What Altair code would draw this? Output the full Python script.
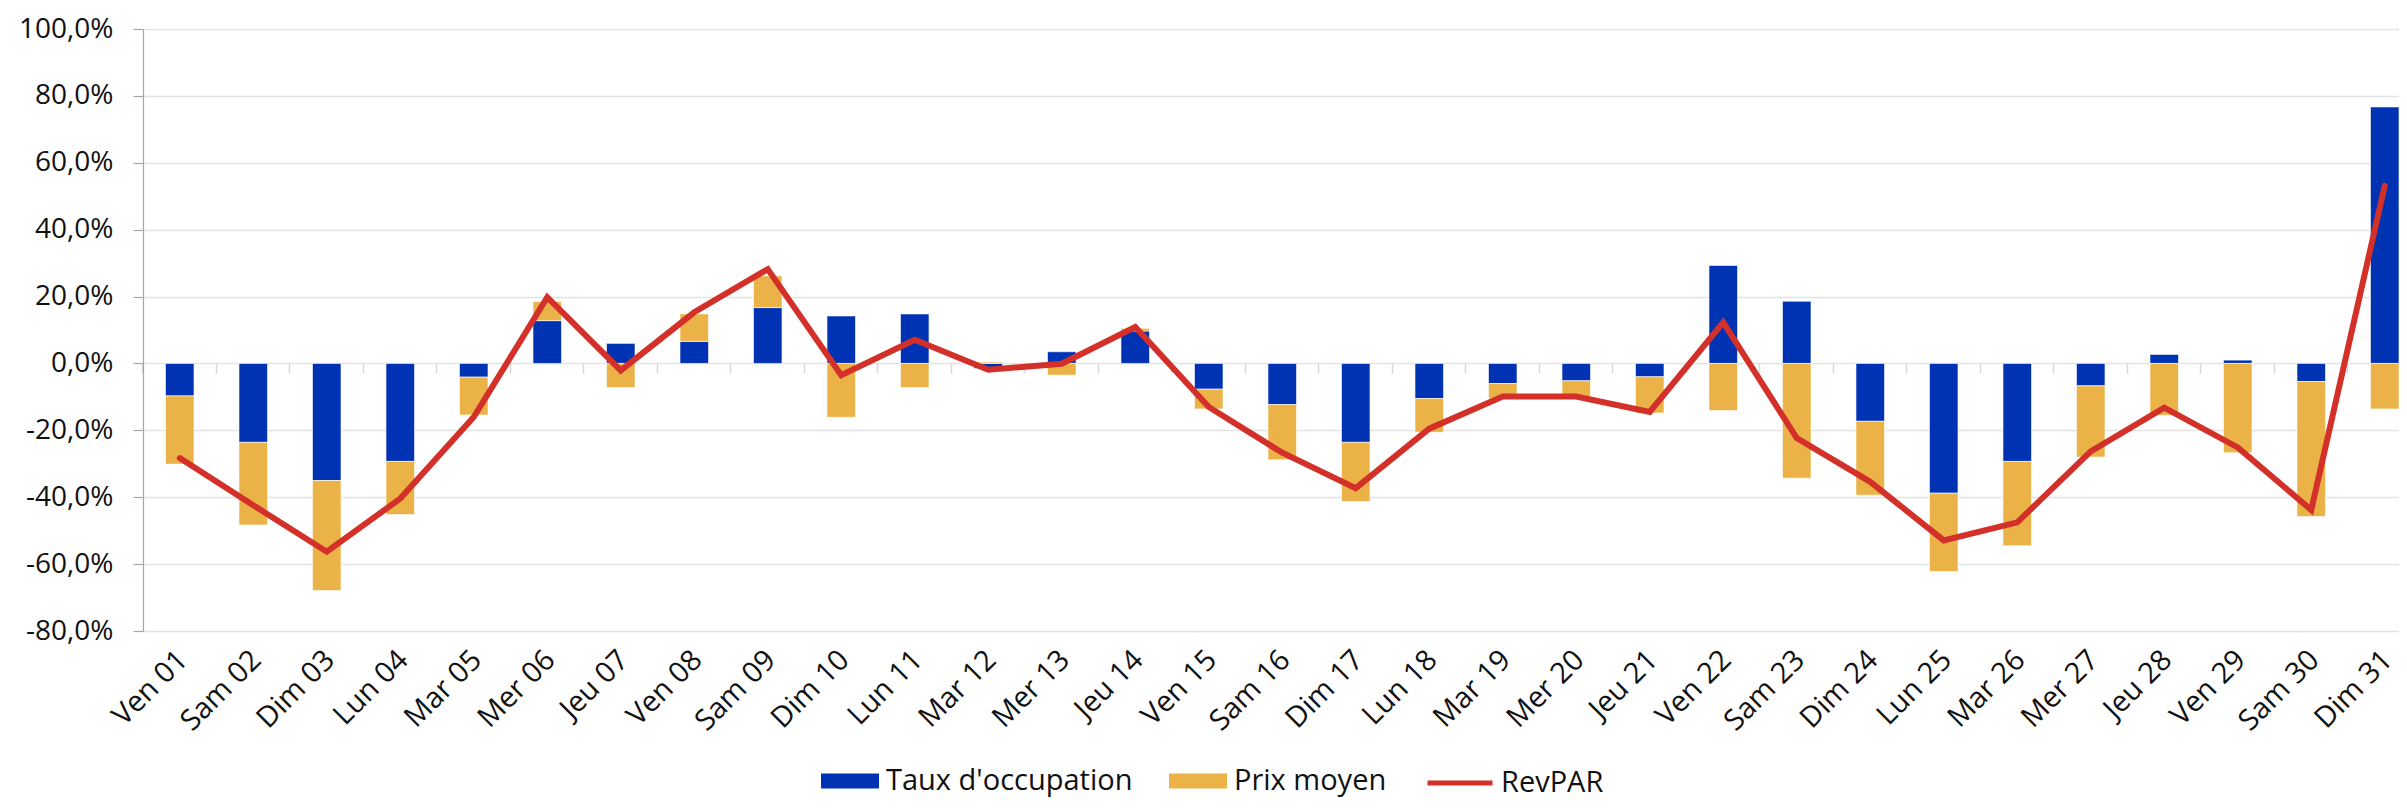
import altair as alt
import pandas as pd

jours = ["Ven 01", "Sam 02", "Dim 03", "Lun 04", "Mar 05", "Mer 06", "Jeu 07", "Ven 08",
         "Sam 09", "Dim 10", "Lun 11", "Mar 12", "Mer 13", "Jeu 14", "Ven 15", "Sam 16",
         "Dim 17", "Lun 18", "Mar 19", "Mer 20", "Jeu 21", "Ven 22", "Sam 23", "Dim 24",
         "Lun 25", "Mar 26", "Mer 27", "Jeu 28", "Ven 29", "Sam 30", "Dim 31"]

taux = [-9.7, -23.6, -35.0, -29.3, -4.1, 12.8, 6.0, 6.6, 16.7, 14.2, 14.8, -1.5, 3.5, 9.7,
        -7.7, -12.3, -23.6, -10.5, -6.0, -5.2, -4.0, 29.3, 18.6, -17.3, -38.8, -29.3, -6.7,
        2.7, 1.0, -5.4, 76.7]

prix = [-20.4, -24.7, -32.9, -15.9, -11.3, 5.7, -7.2, 8.2, 9.5, -16.1, -7.2, 0.4, -3.5, 0.8,
        -5.9, -16.5, -17.7, -10.1, -4.5, -4.7, -10.8, -14.1, -34.3, -22.1, -23.4, -25.2, -21.3,
        -15.5, -26.7, -40.4, -13.6]

revpar = [-28.3, -42.4, -56.3, -40.4, -16.0, 19.8, -2.1, 15.3, 28.2, -3.5, 7.1, -1.9, -0.1,
          10.9, -13.0, -26.7, -37.3, -19.5, -9.9, -9.9, -14.5, 12.3, -22.3, -35.4, -52.9,
          -47.5, -26.3, -13.2, -25.1, -43.8, 53.1]

series_bars = ["Taux d'occupation", "Prix moyen"]
series_line = ["RevPAR"]
y_ticks = [-80, -60, -40, -20, 0, 20, 40, 60, 80, 100]

rows = []
for j, t, p in zip(jours, taux, prix):
    rows.append({"jour": j, "serie": series_bars[0], "valeur": t, "ordre": 0})
    rows.append({"jour": j, "serie": series_bars[1], "valeur": p, "ordre": 1})
bars_df = pd.DataFrame(rows)
line_df = pd.DataFrame({"jour": jours, "serie": series_line[0], "valeur": revpar})

FONT = "Open Sans"
FS = 28
TXT = "#111111"
TOP = 21
H = 602

xscale = alt.Scale(domain=jours, paddingInner=0.612, paddingOuter=0.153, align=1)
yscale = alt.Scale(domain=[-80, 100], nice=False, zero=False)
label_expr = ("(datum.value < 0 ? '-' : '') + "
              "replace(format(abs(datum.value), '.1f'), '.', ',') + '%'")

yaxis = alt.Axis(values=y_ticks, labelExpr=label_expr, grid=True, gridColor="#e3e3e3",
                 gridWidth=1.5, domain=True, domainColor="#a6a6a6", domainWidth=1.2,
                 ticks=True, tickColor="#a6a6a6", tickSize=10, tickWidth=1.2,
                 labelPadding=20, labelFontSize=FS, labelFont=FONT, labelColor=TXT,
                 title=None)

bars = alt.Chart(bars_df).mark_bar(stroke="white", strokeWidth=0.6).encode(
    x=alt.X("jour:N", scale=xscale,
            axis=alt.Axis(orient="bottom", offset=-round(H * 80 / 180), labels=False,
                          domain=False, grid=False, ticks=True, tickColor="#d9d9d9",
                          tickSize=10, tickWidth=1.5, bandPosition=-0.79, title=None)),
    y=alt.Y("valeur:Q", stack="zero", scale=yscale, axis=yaxis),
    fill=alt.Fill("serie:N",
                  scale=alt.Scale(domain=series_bars, range=["#0033B4", "#EBB347"]),
                  legend=alt.Legend(orient="none", legendX=678, legendY=723,
                                    direction="horizontal", title=None,
                                    symbolType="M-1,-0.26H1V0.26H-1Z", symbolSize=3364,
                                    symbolStrokeWidth=0, symbolOpacity=1,
                                    labelFontSize=FS + 1, labelFont=FONT, labelColor=TXT,
                                    labelLimit=500, labelOffset=7, columnPadding=36)),
    order=alt.Order("ordre:Q"),
)

line = alt.Chart(line_df).mark_line(strokeWidth=6, strokeCap="round", strokeJoin="miter").encode(
    x=alt.X("jour:N", scale=xscale,
            axis=alt.Axis(orient="bottom", labelAngle=-45, labelAlign="right",
                          labelBaseline="middle", labelFontSize=FS + 1, labelFont=FONT,
                          labelColor=TXT, labelPadding=24, labelOffset=3,
                          domain=False, ticks=False, grid=False, title=None)),
    y=alt.Y("valeur:Q", scale=yscale, axis=yaxis),
    stroke=alt.Stroke("serie:N",
                      scale=alt.Scale(domain=series_line, range=["#D3302A"]),
                      legend=alt.Legend(orient="none", legendX=1282, legendY=719,
                                        direction="horizontal", title=None,
                                        symbolType="stroke", symbolSize=4225,
                                        symbolStrokeWidth=5,
                                        labelFontSize=FS + 1, labelFont=FONT,
                                        labelColor=TXT, labelLimit=500, labelOffset=6)),
)

chart = alt.layer(bars, line).resolve_axis(x="independent").properties(
    width=2256, height=H,
    padding={"left": 135, "top": TOP, "right": 0, "bottom": 793 - TOP - H},
    autosize=alt.AutoSizeParams(type="none"),
).configure_view(stroke=None).configure(font=FONT)

chart.save("out.html", embed_options={"renderer": "svg", "actions": False})
